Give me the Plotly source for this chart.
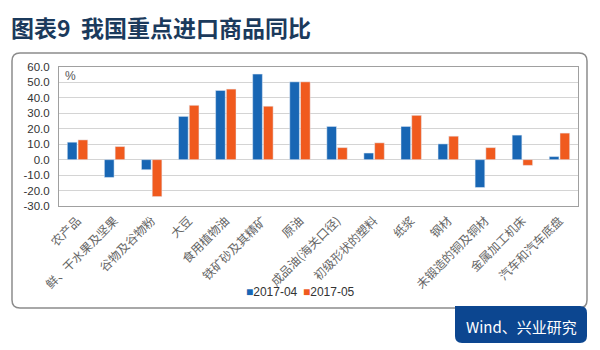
import plotly.graph_objects as go

categories = ["农产品", "鲜、干水果及坚果", "谷物及谷物粉", "大豆", "食用植物油", "铁矿砂及其精矿",
              "原油", "成品油(海关口径)", "初级形状的塑料", "纸浆", "钢材", "未锻造的铜及铜材",
              "金属加工机床", "汽车和汽车底盘"]
apr_2017 = [11.3, -11.5, -6.5, 28.0, 44.8, 55.4, 50.4, 21.5, 4.3, 21.5, 10.2, -18.0, 15.9, 2.0]
may_2017 = [12.8, 8.5, -23.9, 35.2, 45.7, 34.6, 50.4, 7.8, 10.9, 28.7, 15.2, 7.8, -3.7, 17.2]
y_ticks = [60, 50, 40, 30, 20, 10, 0, -10, -20, -30]
series_names = ["2017-04", "2017-05"]

BLUE = "#1866b4"
ORANGE = "#f05a1e"
NAVY = "#0c4690"

# plot area in pixels
L, R, T, B = 59, 578, 67, 206
W, H = 600, 350


def px(x, y):
    return (x - L) / (R - L), (B - y) / (B - T)


def rounded_path(x0, y0, x1, y1, r, square_tl=False):
    def P(x, y):
        a, b = px(x, y)
        return f"{a:.5f},{b:.5f}"
    if square_tl:
        s = f"M{P(x0, y0)} "
    else:
        s = f"M{P(x0, y0 + r)} Q{P(x0, y0)} {P(x0 + r, y0)} "
    s += f"L{P(x1 - r, y0)} Q{P(x1, y0)} {P(x1, y0 + r)} "
    s += f"L{P(x1, y1 - r)} Q{P(x1, y1)} {P(x1 - r, y1)} "
    s += f"L{P(x0 + r, y1)} Q{P(x0, y1)} {P(x0, y1 - r)} Z"
    return s


fig = go.Figure()
fig.add_trace(go.Bar(x=categories, y=apr_2017, name=series_names[0], marker_color=BLUE))
fig.add_trace(go.Bar(x=categories, y=may_2017, name=series_names[1], marker_color=ORANGE))

shapes = [
    dict(type="path", xref="paper", yref="paper", path=rounded_path(12, 53, 587, 308, 8),
         line=dict(color="#8c8c8c", width=1.5), fillcolor="rgba(0,0,0,0)", layer="below"),
    dict(type="path", xref="paper", yref="paper", path=rounded_path(455, 306, 587, 343, 7, square_tl=True),
         line=dict(color=NAVY, width=0), fillcolor=NAVY, layer="above"),
]

tx, ty = px(9, 27)
pcx, pcy = px(63, 76)
wx, wy = px(521, 326)
annotations = [
    dict(text="<b>图表9  我国重点进口商品同比</b>", x=tx, y=ty, xref="paper", yref="paper",
         xanchor="left", yanchor="middle", showarrow=False,
         font=dict(family="Noto Sans CJK SC", size=23, color="#1b3a5c")),
    dict(text="%", x=pcx, y=pcy, xref="paper", yref="paper", xanchor="left", yanchor="middle",
         showarrow=False, font=dict(family="Liberation Sans", size=12, color="#555555")),
    dict(text="Wind、兴业研究", x=wx, y=wy, xref="paper", yref="paper", xanchor="center",
         yanchor="middle", showarrow=False,
         font=dict(family="Noto Sans CJK SC", size=15, color="white")),
]
# legend built from the series names
for name, color, xpos in zip(series_names, [BLUE, ORANGE], [244, 301]):
    ax, ay = px(xpos, 292)
    annotations.append(dict(
        text=f"<span style='color:{color}'>■</span>{name}", x=ax, y=ay, xref="paper", yref="paper",
        xanchor="left", yanchor="middle", showarrow=False,
        font=dict(family="Liberation Sans", size=12, color="#333333")))

fig.update_layout(
    width=W, height=H,
    margin=dict(l=L, r=W - R, t=T, b=H - B, pad=0),
    paper_bgcolor="white", plot_bgcolor="white",
    barmode="group", bargap=0.42, bargroupgap=0.1,
    showlegend=False,
    shapes=shapes, annotations=annotations,
    xaxis=dict(tickangle=-45, showline=True, mirror=True, linecolor="#a0a0a0", linewidth=1,
               tickfont=dict(family="Noto Sans CJK SC", size=12, color="#666666"),
               showgrid=False, ticks="outside", ticklen=2, tickcolor="rgba(0,0,0,0)",
               fixedrange=True),
    yaxis=dict(range=[-30, 60], tickvals=y_ticks, ticktext=[f"{v:.1f}" for v in y_ticks],
               showline=True, mirror=True, linecolor="#a0a0a0", linewidth=1,
               gridcolor="#d4d4d4", gridwidth=1, zeroline=False,
               tickfont=dict(family="Liberation Sans", size=11.5, color="#333333"),
               ticks="outside", ticklen=6, tickcolor="rgba(0,0,0,0)"),
)

fig.write_html("out.html")
